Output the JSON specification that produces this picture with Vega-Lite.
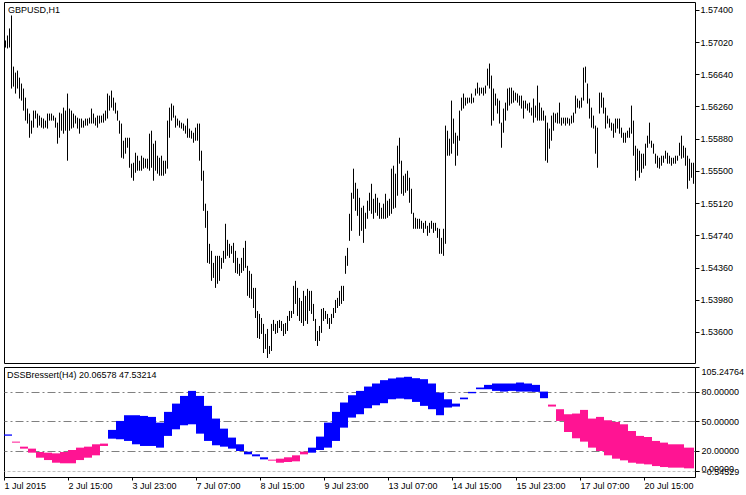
{
"$schema": "https://vega.github.io/schema/vega-lite/v6.json",
"background": "white",
"padding": {"left": 3, "top": 1, "right": 0, "bottom": 0},
"spacing": 2,
"config": {
"view": {"stroke": "#000000", "strokeWidth": 1},
"font": "Liberation Sans",
"axis": {"labelFont": "Liberation Sans", "labelFontSize": 9, "labelColor": "#000000", "tickColor": "#000000", "domain": false, "grid": false, "title": null, "labelOverlap": false}
},
"datasets": {
"p": [
{"i":0,"h":1.57038,"l":1.56955},{"i":1,"h":1.57097,"l":1.56944},{"i":2,"h":1.57180,"l":1.56955},{"i":3,"h":1.57333,"l":1.56471},{"i":4,"h":1.56730,"l":1.56494},
{"i":5,"h":1.56659,"l":1.56412},{"i":6,"h":1.56683,"l":1.56471},{"i":7,"h":1.56600,"l":1.56353},{"i":8,"h":1.56530,"l":1.56329},{"i":9,"h":1.56471,"l":1.56211},
{"i":10,"h":1.56364,"l":1.56093},{"i":11,"h":1.56235,"l":1.56058},{"i":12,"h":1.56176,"l":1.55891},{"i":13,"h":1.56093,"l":1.55939},{"i":14,"h":1.56211,"l":1.56010},
{"i":15,"h":1.56211,"l":1.56117},{"i":16,"h":1.56176,"l":1.56010},{"i":17,"h":1.56152,"l":1.56034},{"i":18,"h":1.56128,"l":1.56010},{"i":19,"h":1.56117,"l":1.55999},
{"i":20,"h":1.56093,"l":1.56010},{"i":21,"h":1.56176,"l":1.55999},{"i":22,"h":1.56176,"l":1.56093},{"i":23,"h":1.56176,"l":1.56093},{"i":24,"h":1.56152,"l":1.56093},
{"i":25,"h":1.56128,"l":1.56010},{"i":26,"h":1.56069,"l":1.55821},{"i":27,"h":1.56187,"l":1.55891},{"i":28,"h":1.56176,"l":1.55974},{"i":29,"h":1.56246,"l":1.55939},
{"i":30,"h":1.56211,"l":1.55974},{"i":31,"h":1.56412,"l":1.55620},{"i":32,"h":1.56235,"l":1.55974},{"i":33,"h":1.56211,"l":1.55999},{"i":34,"h":1.56176,"l":1.56010},
{"i":35,"h":1.56152,"l":1.56058},{"i":36,"h":1.56128,"l":1.55999},{"i":37,"h":1.56117,"l":1.55939},{"i":38,"h":1.56117,"l":1.56010},{"i":39,"h":1.56093,"l":1.56010},
{"i":40,"h":1.56117,"l":1.56034},{"i":41,"h":1.56117,"l":1.56034},{"i":42,"h":1.56128,"l":1.56058},{"i":43,"h":1.56235,"l":1.56058},{"i":44,"h":1.56176,"l":1.56058},
{"i":45,"h":1.56128,"l":1.56034},{"i":46,"h":1.56152,"l":1.56010},{"i":47,"h":1.56152,"l":1.56058},{"i":48,"h":1.56152,"l":1.56069},{"i":49,"h":1.56176,"l":1.56069},
{"i":50,"h":1.56211,"l":1.56093},{"i":51,"h":1.56412,"l":1.56117},{"i":52,"h":1.56388,"l":1.56211},{"i":53,"h":1.56447,"l":1.56246},{"i":54,"h":1.56364,"l":1.56211},
{"i":55,"h":1.56305,"l":1.56176},{"i":56,"h":1.56211,"l":1.56093},{"i":57,"h":1.56093,"l":1.55939},{"i":58,"h":1.56058,"l":1.55655},{"i":59,"h":1.55856,"l":1.55644},
{"i":60,"h":1.55891,"l":1.55703},{"i":61,"h":1.55891,"l":1.55773},{"i":62,"h":1.55891,"l":1.55537},{"i":63,"h":1.55585,"l":1.55419},{"i":64,"h":1.55596,"l":1.55384},
{"i":65,"h":1.55714,"l":1.55478},{"i":66,"h":1.55679,"l":1.55502},{"i":67,"h":1.55620,"l":1.55502},{"i":68,"h":1.55679,"l":1.55502},{"i":69,"h":1.55655,"l":1.55526},
{"i":70,"h":1.55644,"l":1.55537},{"i":71,"h":1.55644,"l":1.55526},{"i":72,"h":1.55939,"l":1.55502},{"i":73,"h":1.55974,"l":1.55537},{"i":74,"h":1.55821,"l":1.55384},
{"i":75,"h":1.55856,"l":1.55502},{"i":76,"h":1.55679,"l":1.55467},{"i":77,"h":1.55655,"l":1.55443},{"i":78,"h":1.55679,"l":1.55443},{"i":79,"h":1.55620,"l":1.55443},
{"i":80,"h":1.55620,"l":1.55467},{"i":81,"h":1.56093,"l":1.55526},{"i":82,"h":1.56246,"l":1.55891},{"i":83,"h":1.56294,"l":1.56093},{"i":84,"h":1.56270,"l":1.56128},
{"i":85,"h":1.56152,"l":1.56010},{"i":86,"h":1.56117,"l":1.56034},{"i":87,"h":1.56093,"l":1.56010},{"i":88,"h":1.56069,"l":1.55999},{"i":89,"h":1.56058,"l":1.55974},
{"i":90,"h":1.56034,"l":1.55939},{"i":91,"h":1.56117,"l":1.55891},{"i":92,"h":1.55999,"l":1.55891},{"i":93,"h":1.55974,"l":1.55880},{"i":94,"h":1.55950,"l":1.55832},
{"i":95,"h":1.56010,"l":1.55856},{"i":96,"h":1.56058,"l":1.55856},{"i":97,"h":1.56058,"l":1.55620},{"i":98,"h":1.55738,"l":1.55384},{"i":99,"h":1.55502,"l":1.55029},
{"i":100,"h":1.55113,"l":1.54828},{"i":101,"h":1.55029,"l":1.54415},{"i":102,"h":1.54640,"l":1.54404},{"i":103,"h":1.54557,"l":1.54203},{"i":104,"h":1.54415,"l":1.54238},
{"i":105,"h":1.54498,"l":1.54120},{"i":106,"h":1.54498,"l":1.54168},{"i":107,"h":1.54498,"l":1.54203},{"i":108,"h":1.54474,"l":1.54345},{"i":109,"h":1.54557,"l":1.54415},
{"i":110,"h":1.54876,"l":1.54463},{"i":111,"h":1.54687,"l":1.54498},{"i":112,"h":1.54640,"l":1.54474},{"i":113,"h":1.54616,"l":1.54522},{"i":114,"h":1.54651,"l":1.54415},
{"i":115,"h":1.54557,"l":1.54297},{"i":116,"h":1.54474,"l":1.54286},{"i":117,"h":1.54404,"l":1.54262},{"i":118,"h":1.54474,"l":1.54297},{"i":119,"h":1.54592,"l":1.54321},
{"i":120,"h":1.54675,"l":1.54356},{"i":121,"h":1.54380,"l":1.54026},{"i":122,"h":1.54321,"l":1.54002},{"i":123,"h":1.54286,"l":1.53990},{"i":124,"h":1.54120,"l":1.53883},
{"i":125,"h":1.54120,"l":1.53765},{"i":126,"h":1.53848,"l":1.53529},{"i":127,"h":1.53813,"l":1.53518},{"i":128,"h":1.53765,"l":1.53577},{"i":129,"h":1.53695,"l":1.53352},
{"i":130,"h":1.53577,"l":1.53400},{"i":131,"h":1.53636,"l":1.53293},{"i":132,"h":1.53435,"l":1.53341},{"i":133,"h":1.53695,"l":1.53376},{"i":134,"h":1.53742,"l":1.53612},
{"i":135,"h":1.53695,"l":1.53577},{"i":136,"h":1.53730,"l":1.53589},{"i":137,"h":1.53742,"l":1.53647},{"i":138,"h":1.53730,"l":1.53612},{"i":139,"h":1.53695,"l":1.53553},
{"i":140,"h":1.53706,"l":1.53577},{"i":141,"h":1.53789,"l":1.53612},{"i":142,"h":1.53848,"l":1.53730},{"i":143,"h":1.53848,"l":1.53765},{"i":144,"h":1.54144,"l":1.53813},
{"i":145,"h":1.54203,"l":1.53931},{"i":146,"h":1.54120,"l":1.53789},{"i":147,"h":1.54002,"l":1.53730},{"i":148,"h":1.53966,"l":1.53706},{"i":149,"h":1.54085,"l":1.53671},
{"i":150,"h":1.54026,"l":1.53730},{"i":151,"h":1.54108,"l":1.53695},{"i":152,"h":1.54085,"l":1.53848},{"i":153,"h":1.54085,"l":1.53813},{"i":154,"h":1.53931,"l":1.53730},
{"i":155,"h":1.53754,"l":1.53494},{"i":156,"h":1.53612,"l":1.53435},{"i":157,"h":1.53671,"l":1.53494},{"i":158,"h":1.53872,"l":1.53589},{"i":159,"h":1.53883,"l":1.53730},
{"i":160,"h":1.53848,"l":1.53754},{"i":161,"h":1.53813,"l":1.53695},{"i":162,"h":1.53765,"l":1.53636},{"i":163,"h":1.53813,"l":1.53695},{"i":164,"h":1.53883,"l":1.53765},
{"i":165,"h":1.53978,"l":1.53824},{"i":166,"h":1.54002,"l":1.53883},{"i":167,"h":1.54085,"l":1.53907},{"i":168,"h":1.54144,"l":1.53931},{"i":169,"h":1.54144,"l":1.53966},
{"i":170,"h":1.54498,"l":1.54286},{"i":171,"h":1.54592,"l":1.54380},{"i":172,"h":1.54994,"l":1.54675},{"i":173,"h":1.55242,"l":1.54793},{"i":174,"h":1.55526,"l":1.55171},
{"i":175,"h":1.55360,"l":1.55029},{"i":176,"h":1.55289,"l":1.54970},{"i":177,"h":1.55183,"l":1.54734},{"i":178,"h":1.55065,"l":1.54793},{"i":179,"h":1.55089,"l":1.54651},
{"i":180,"h":1.55006,"l":1.54817},{"i":181,"h":1.55148,"l":1.54935},{"i":182,"h":1.55242,"l":1.55029},{"i":183,"h":1.55348,"l":1.54994},{"i":184,"h":1.55171,"l":1.54935},
{"i":185,"h":1.55230,"l":1.55006},{"i":186,"h":1.55183,"l":1.54970},{"i":187,"h":1.55124,"l":1.54935},{"i":188,"h":1.55065,"l":1.54935},{"i":189,"h":1.55113,"l":1.54935},
{"i":190,"h":1.55230,"l":1.54935},{"i":191,"h":1.55148,"l":1.54947},{"i":192,"h":1.55171,"l":1.54970},{"i":193,"h":1.55526,"l":1.54994},{"i":194,"h":1.55561,"l":1.55053},
{"i":195,"h":1.55467,"l":1.55065},{"i":196,"h":1.55797,"l":1.55207},{"i":197,"h":1.55891,"l":1.55585},{"i":198,"h":1.55620,"l":1.55230},{"i":199,"h":1.55443,"l":1.55207},
{"i":200,"h":1.55467,"l":1.55242},{"i":201,"h":1.55502,"l":1.55266},{"i":202,"h":1.55419,"l":1.55124},{"i":203,"h":1.55289,"l":1.54994},{"i":204,"h":1.55006,"l":1.54817},
{"i":205,"h":1.54947,"l":1.54817},{"i":206,"h":1.54935,"l":1.54817},{"i":207,"h":1.54935,"l":1.54817},{"i":208,"h":1.54911,"l":1.54817},{"i":209,"h":1.54887,"l":1.54769},
{"i":210,"h":1.54911,"l":1.54817},{"i":211,"h":1.54852,"l":1.54734},{"i":212,"h":1.54887,"l":1.54769},{"i":213,"h":1.54911,"l":1.54817},{"i":214,"h":1.54887,"l":1.54769},
{"i":215,"h":1.54887,"l":1.54793},{"i":216,"h":1.54828,"l":1.54710},{"i":217,"h":1.54817,"l":1.54522},{"i":218,"h":1.54710,"l":1.54522},{"i":219,"h":1.54817,"l":1.54498},
{"i":220,"h":1.56034,"l":1.54640},{"i":221,"h":1.55974,"l":1.55679},{"i":222,"h":1.55880,"l":1.55679},{"i":223,"h":1.56329,"l":1.55703},{"i":224,"h":1.56117,"l":1.55821},
{"i":225,"h":1.55950,"l":1.55561},{"i":226,"h":1.55915,"l":1.55679},{"i":227,"h":1.56211,"l":1.55856},{"i":228,"h":1.56364,"l":1.56211},{"i":229,"h":1.56412,"l":1.56235},
{"i":230,"h":1.56364,"l":1.56270},{"i":231,"h":1.56364,"l":1.56294},{"i":232,"h":1.56364,"l":1.56305},{"i":233,"h":1.56412,"l":1.56294},{"i":234,"h":1.56364,"l":1.56305},
{"i":235,"h":1.56471,"l":1.56388},{"i":236,"h":1.56541,"l":1.56412},{"i":237,"h":1.56482,"l":1.56388},{"i":238,"h":1.56482,"l":1.56412},{"i":239,"h":1.56482,"l":1.56388},
{"i":240,"h":1.56506,"l":1.56412},{"i":241,"h":1.56706,"l":1.56506},{"i":242,"h":1.56766,"l":1.56471},{"i":243,"h":1.56624,"l":1.56034},{"i":244,"h":1.56471,"l":1.56093},
{"i":245,"h":1.56412,"l":1.56270},{"i":246,"h":1.56353,"l":1.56176},{"i":247,"h":1.56329,"l":1.56058},{"i":248,"h":1.56069,"l":1.55773},{"i":249,"h":1.56235,"l":1.55950},
{"i":250,"h":1.56305,"l":1.56093},{"i":251,"h":1.56471,"l":1.56211},{"i":252,"h":1.56482,"l":1.56270},{"i":253,"h":1.56482,"l":1.56294},{"i":254,"h":1.56447,"l":1.56305},
{"i":255,"h":1.56423,"l":1.56329},{"i":256,"h":1.56412,"l":1.56305},{"i":257,"h":1.56388,"l":1.56270},{"i":258,"h":1.56388,"l":1.56235},{"i":259,"h":1.56329,"l":1.56117},
{"i":260,"h":1.56329,"l":1.56235},{"i":261,"h":1.56294,"l":1.56211},{"i":262,"h":1.56305,"l":1.56187},{"i":263,"h":1.56246,"l":1.56152},{"i":264,"h":1.56353,"l":1.56069},
{"i":265,"h":1.56270,"l":1.56128},{"i":266,"h":1.56506,"l":1.56093},{"i":267,"h":1.56305,"l":1.56093},{"i":268,"h":1.56246,"l":1.56093},{"i":269,"h":1.56211,"l":1.56093},
{"i":270,"h":1.56152,"l":1.55620},{"i":271,"h":1.56069,"l":1.55596},{"i":272,"h":1.55999,"l":1.55762},{"i":273,"h":1.56152,"l":1.55856},{"i":274,"h":1.56187,"l":1.55974},
{"i":275,"h":1.56176,"l":1.56069},{"i":276,"h":1.56187,"l":1.56058},{"i":277,"h":1.56305,"l":1.56058},{"i":278,"h":1.56128,"l":1.56034},{"i":279,"h":1.56128,"l":1.56058},
{"i":280,"h":1.56128,"l":1.56034},{"i":281,"h":1.56128,"l":1.56058},{"i":282,"h":1.56117,"l":1.56034},{"i":283,"h":1.56152,"l":1.56058},{"i":284,"h":1.56187,"l":1.56069},
{"i":285,"h":1.56388,"l":1.56176},{"i":286,"h":1.56353,"l":1.56246},{"i":287,"h":1.56329,"l":1.56235},{"i":288,"h":1.56364,"l":1.56246},{"i":289,"h":1.56718,"l":1.56329},
{"i":290,"h":1.56730,"l":1.56541},{"i":291,"h":1.56530,"l":1.56294},{"i":292,"h":1.56353,"l":1.56117},{"i":293,"h":1.56246,"l":1.56010},{"i":294,"h":1.56152,"l":1.55999},
{"i":295,"h":1.56034,"l":1.55703},{"i":296,"h":1.56010,"l":1.55537},{"i":297,"h":1.56423,"l":1.56176},{"i":298,"h":1.56423,"l":1.56246},{"i":299,"h":1.56364,"l":1.56176},
{"i":300,"h":1.56246,"l":1.55999},{"i":301,"h":1.56152,"l":1.56058},{"i":302,"h":1.56117,"l":1.56010},{"i":303,"h":1.56069,"l":1.55974},{"i":304,"h":1.56058,"l":1.55891},
{"i":305,"h":1.56117,"l":1.55950},{"i":306,"h":1.56117,"l":1.55999},{"i":307,"h":1.56117,"l":1.55939},{"i":308,"h":1.56010,"l":1.55891},{"i":309,"h":1.55950,"l":1.55832},
{"i":310,"h":1.55950,"l":1.55832},{"i":311,"h":1.55974,"l":1.55891},{"i":312,"h":1.56010,"l":1.55891},{"i":313,"h":1.56270,"l":1.55939},{"i":314,"h":1.56093,"l":1.55679},
{"i":315,"h":1.55797,"l":1.55384},{"i":316,"h":1.55762,"l":1.55502},{"i":317,"h":1.55738,"l":1.55419},{"i":318,"h":1.55703,"l":1.55478},{"i":319,"h":1.55703,"l":1.55526},
{"i":320,"h":1.55821,"l":1.55561},{"i":321,"h":1.55915,"l":1.55773},{"i":322,"h":1.56069,"l":1.55821},{"i":323,"h":1.55856,"l":1.55773},{"i":324,"h":1.55821,"l":1.55703},
{"i":325,"h":1.55703,"l":1.55585},{"i":326,"h":1.55679,"l":1.55537},{"i":327,"h":1.55655,"l":1.55526},{"i":328,"h":1.55679,"l":1.55561},{"i":329,"h":1.55679,"l":1.55596},
{"i":330,"h":1.55738,"l":1.55644},{"i":331,"h":1.55714,"l":1.55585},{"i":332,"h":1.55679,"l":1.55585},{"i":333,"h":1.55655,"l":1.55561},{"i":334,"h":1.55655,"l":1.55585},
{"i":335,"h":1.55679,"l":1.55585},{"i":336,"h":1.55679,"l":1.55620},{"i":337,"h":1.55832,"l":1.55679},{"i":338,"h":1.55915,"l":1.55644},{"i":339,"h":1.55797,"l":1.55655},
{"i":340,"h":1.55773,"l":1.55561},{"i":341,"h":1.55679,"l":1.55289},{"i":342,"h":1.55644,"l":1.55384},{"i":343,"h":1.55596,"l":1.55419},{"i":344,"h":1.55596,"l":1.55348}
],
"d": [
{"s":0,"e":4,"a":36.8,"b":35.5,"c":"up"},{"s":4,"e":8,"a":29.5,"b":28.5,"c":"down"},{"s":8,"e":12,"a":24.4,"b":22.4,"c":"down"},{"s":12,"e":16,"a":22.4,"b":18.3,"c":"down"},
{"s":16,"e":20,"a":19.0,"b":13.2,"c":"down"},{"s":20,"e":24,"a":18.3,"b":10.8,"c":"down"},{"s":24,"e":28,"a":17.6,"b":8.1,"c":"down"},{"s":28,"e":32,"a":19.0,"b":7.5,"c":"down"},
{"s":32,"e":36,"a":21.0,"b":7.5,"c":"down"},{"s":36,"e":40,"a":23.4,"b":10.8,"c":"down"},{"s":40,"e":44,"a":24.4,"b":13.2,"c":"down"},{"s":44,"e":48,"a":26.8,"b":15.6,"c":"down"},
{"s":48,"e":52,"a":27.5,"b":25.1,"c":"down"},{"s":52,"e":56,"a":41.4,"b":32.5,"c":"up"},{"s":56,"e":60,"a":50.5,"b":31.9,"c":"up"},{"s":60,"e":64,"a":56.3,"b":30.2,"c":"up"},
{"s":64,"e":68,"a":56.3,"b":26.8,"c":"up"},{"s":68,"e":72,"a":55.6,"b":25.1,"c":"up"},{"s":72,"e":76,"a":54.6,"b":25.1,"c":"up"},{"s":76,"e":80,"a":48.8,"b":23.4,"c":"up"},
{"s":80,"e":84,"a":59.7,"b":35.3,"c":"up"},{"s":84,"e":88,"a":68.1,"b":42.0,"c":"up"},{"s":88,"e":92,"a":75.9,"b":46.1,"c":"up"},{"s":92,"e":96,"a":81.0,"b":47.1,"c":"up"},
{"s":96,"e":100,"a":75.9,"b":37.6,"c":"up"},{"s":100,"e":104,"a":65.8,"b":30.2,"c":"up"},{"s":104,"e":108,"a":52.9,"b":25.8,"c":"up"},{"s":108,"e":112,"a":42.7,"b":24.4,"c":"up"},
{"s":112,"e":116,"a":33.6,"b":22.4,"c":"up"},{"s":116,"e":120,"a":26.8,"b":20.0,"c":"up"},{"s":120,"e":124,"a":19.3,"b":16.6,"c":"up"},{"s":124,"e":128,"a":16.6,"b":14.6,"c":"up"},
{"s":128,"e":132,"a":13.6,"b":11.5,"c":"up"},{"s":132,"e":136,"a":11.2,"b":10.2,"c":"down"},{"s":136,"e":140,"a":12.2,"b":8.1,"c":"down"},{"s":140,"e":144,"a":13.6,"b":8.8,"c":"down"},
{"s":144,"e":148,"a":15.6,"b":9.5,"c":"down"},{"s":148,"e":152,"a":19.3,"b":16.6,"c":"down"},{"s":152,"e":156,"a":23.4,"b":18.3,"c":"up"},{"s":156,"e":160,"a":34.6,"b":21.0,"c":"up"},
{"s":160,"e":164,"a":48.8,"b":23.4,"c":"up"},{"s":164,"e":168,"a":59.7,"b":30.2,"c":"up"},{"s":168,"e":172,"a":69.2,"b":43.7,"c":"up"},{"s":172,"e":176,"a":76.6,"b":53.9,"c":"up"},
{"s":176,"e":180,"a":81.0,"b":57.3,"c":"up"},{"s":180,"e":184,"a":85.4,"b":63.4,"c":"up"},{"s":184,"e":188,"a":88.5,"b":66.4,"c":"up"},{"s":188,"e":192,"a":91.9,"b":68.5,"c":"up"},
{"s":192,"e":196,"a":93.6,"b":72.5,"c":"up"},{"s":196,"e":200,"a":94.6,"b":73.2,"c":"up"},{"s":200,"e":204,"a":95.3,"b":72.5,"c":"up"},{"s":204,"e":208,"a":93.9,"b":69.8,"c":"up"},
{"s":208,"e":212,"a":92.9,"b":65.8,"c":"up"},{"s":212,"e":216,"a":88.5,"b":62.4,"c":"up"},{"s":216,"e":220,"a":79.3,"b":56.3,"c":"up"},{"s":220,"e":224,"a":72.5,"b":64.1,"c":"up"},
{"s":224,"e":228,"a":68.1,"b":65.1,"c":"up"},{"s":228,"e":232,"a":74.2,"b":72.5,"c":"up"},{"s":232,"e":236,"a":80.0,"b":78.6,"c":"up"},{"s":236,"e":240,"a":84.4,"b":82.7,"c":"up"},
{"s":240,"e":244,"a":87.1,"b":82.7,"c":"up"},{"s":244,"e":248,"a":88.5,"b":81.0,"c":"up"},{"s":248,"e":252,"a":88.5,"b":80.3,"c":"up"},{"s":252,"e":256,"a":88.5,"b":81.0,"c":"up"},
{"s":256,"e":260,"a":89.5,"b":80.3,"c":"up"},{"s":260,"e":264,"a":88.5,"b":80.3,"c":"up"},{"s":264,"e":268,"a":87.1,"b":80.0,"c":"up"},{"s":268,"e":272,"a":80.3,"b":73.6,"c":"up"},
{"s":272,"e":276,"a":67.1,"b":65.1,"c":"down"},{"s":276,"e":280,"a":62.4,"b":50.5,"c":"down"},{"s":280,"e":284,"a":57.3,"b":39.3,"c":"down"},{"s":284,"e":288,"a":58.0,"b":32.9,"c":"down"},
{"s":288,"e":292,"a":61.7,"b":29.5,"c":"down"},{"s":292,"e":296,"a":52.9,"b":23.4,"c":"down"},{"s":296,"e":300,"a":54.6,"b":20.0,"c":"down"},{"s":300,"e":304,"a":51.2,"b":15.6,"c":"down"},
{"s":304,"e":308,"a":49.5,"b":12.2,"c":"down"},{"s":308,"e":312,"a":47.1,"b":10.5,"c":"down"},{"s":312,"e":316,"a":40.3,"b":8.1,"c":"down"},{"s":316,"e":320,"a":35.3,"b":7.1,"c":"down"},
{"s":320,"e":324,"a":34.2,"b":6.4,"c":"down"},{"s":324,"e":328,"a":30.2,"b":4.7,"c":"down"},{"s":328,"e":332,"a":28.5,"b":3.7,"c":"down"},{"s":332,"e":336,"a":26.8,"b":3.1,"c":"down"},
{"s":336,"e":340,"a":26.8,"b":3.1,"c":"down"},{"s":340,"e":345,"a":23.4,"b":2.4,"c":"down"}
]
},
"vconcat": [
{
"width": 691, "height": 361,
"layer": [
{
"data": {"name": "p"},
"mark": {"type": "rule", "color": "#000000", "strokeWidth": 1},
"encoding": {
"x": {"field": "i", "type": "quantitative", "scale": {"domain": [-0.75, 344.75], "nice": false, "zero": false}, "axis": null},
"y": {"field": "h", "type": "quantitative", "scale": {"domain": [1.53234, 1.57492], "nice": false, "zero": false},
"axis": {"orient": "right", "values": [1.574, 1.5702, 1.5664, 1.5626, 1.5588, 1.555, 1.5512, 1.5474, 1.5436, 1.5398, 1.536], "format": ".5f", "tickSize": 4, "labelPadding": 1, "labelOverlap": false}},
"y2": {"field": "l"}
}
},
{
"data": {"values": [{"t": "GBPUSD,H1"}]},
"mark": {"type": "text", "align": "left", "baseline": "top", "dx": 4, "dy": 4, "font": "Liberation Sans", "fontSize": 9, "color": "#000000"},
"encoding": {
"x": {"datum": -0.75, "type": "quantitative", "axis": null},
"y": {"datum": 1.57492, "type": "quantitative",
"axis": {"orient": "right", "values": [1.574, 1.5702, 1.5664, 1.5626, 1.5588, 1.555, 1.5512, 1.5474, 1.5436, 1.5398, 1.536], "format": ".5f", "tickSize": 4, "labelPadding": 1, "labelOverlap": false}},
"text": {"field": "t"}
}
}
]
},
{
"width": 691, "height": 110,
"layer": [
{
"data": {"name": "d"},
"mark": {"type": "rect", "xOffset": -1.5, "x2Offset": -1.5},
"encoding": {
"x": {"field": "s", "type": "quantitative", "scale": {"domain": [-0.75, 344.75], "nice": false, "zero": false},
"axis": {"orient": "bottom", "values": [-0.75, 31.25, 63.25, 95.25, 127.25, 159.25, 191.25, 223.25, 255.25, 287.25, 319.25],
"labelExpr": "['1 Jul 2015','2 Jul 15:00','3 Jul 23:00','7 Jul 07:00','8 Jul 15:00','9 Jul 23:00','13 Jul 07:00','14 Jul 15:00','15 Jul 23:00','17 Jul 07:00','20 Jul 15:00'][round((datum.value+0.75)/32)]",
"labelAlign": "left", "labelBaseline": "top", "labelFlush": false, "labelOverlap": false, "tickSize": 3, "labelPadding": 1}},
"x2": {"field": "e"},
"y": {"field": "a", "type": "quantitative", "scale": {"domain": [-6.4, 105.25], "nice": false, "zero": false},
"axis": {"orient": "right", "values": [105.24764, 80, 50, 20, 0, -0.54529], "format": ".5f", "tickSize": 4, "labelPadding": 2, "labelOverlap": false,
"labelBaseline": {"condition": {"test": "datum.value > 100", "value": "top"}, "value": "middle"},
"labelOffset": {"condition": {"test": "datum.value === 0", "value": -2}, "value": 0},
"grid": true,
"gridColor": {"condition": {"test": "datum.value === 0", "value": "#c0c0c0"}, "value": "#808080"},
"gridDash": {"condition": {"test": "datum.value === 0", "value": [3, 2]}, "value": [8, 3, 2, 3]},
"gridOpacity": {"condition": {"test": "datum.value > 100 || datum.value < 0", "value": 0}, "value": 1}}},
"y2": {"field": "b"},
"color": {"field": "c", "type": "nominal", "scale": {"domain": ["up", "down"], "range": ["#0000ff", "#ff1493"]}, "legend": null}
}
},
{
"data": {"values": [{"t": "DSSBressert(H4) 20.06578 47.53214"}]},
"mark": {"type": "text", "align": "left", "baseline": "top", "dx": 3, "dy": 4, "font": "Liberation Sans", "fontSize": 9, "color": "#000000"},
"encoding": {
"x": {"datum": -0.75, "type": "quantitative",
"axis": {"orient": "bottom", "values": [-0.75, 31.25, 63.25, 95.25, 127.25, 159.25, 191.25, 223.25, 255.25, 287.25, 319.25],
"labelExpr": "['1 Jul 2015','2 Jul 15:00','3 Jul 23:00','7 Jul 07:00','8 Jul 15:00','9 Jul 23:00','13 Jul 07:00','14 Jul 15:00','15 Jul 23:00','17 Jul 07:00','20 Jul 15:00'][round((datum.value+0.75)/32)]",
"labelAlign": "left", "labelBaseline": "top", "labelFlush": false, "labelOverlap": false, "tickSize": 3, "labelPadding": 1}},
"y": {"datum": 105.25, "type": "quantitative",
"axis": {"orient": "right", "values": [105.24764, 80, 50, 20, 0, -0.54529], "format": ".5f", "tickSize": 4, "labelPadding": 2, "labelOverlap": false,
"labelBaseline": {"condition": {"test": "datum.value > 100", "value": "top"}, "value": "middle"},
"labelOffset": {"condition": {"test": "datum.value === 0", "value": -2}, "value": 0},
"grid": true,
"gridColor": {"condition": {"test": "datum.value === 0", "value": "#c0c0c0"}, "value": "#808080"},
"gridDash": {"condition": {"test": "datum.value === 0", "value": [3, 2]}, "value": [8, 3, 2, 3]},
"gridOpacity": {"condition": {"test": "datum.value > 100 || datum.value < 0", "value": 0}, "value": 1}}},
"text": {"field": "t"}
}
}
]
}
]
}
